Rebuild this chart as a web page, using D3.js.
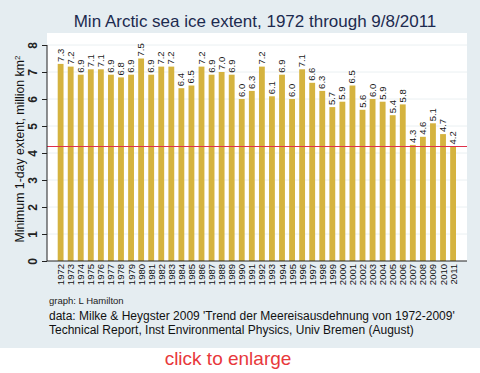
<!DOCTYPE html>
<html>
<head>
<meta charset="utf-8">
<script src="https://cdn.jsdelivr.net/npm/d3@7"></script>
<style>
  body { margin: 0; background: #fff; }
  svg { display: block; font-family: "Liberation Sans", Arial, sans-serif; }
</style>
</head>
<body>
<div id="chart"></div>
<script>
// data
const years = d3.range(1972, 2012).map(String);
const extent = [7.3, 7.2, 6.9, 7.1, 7.1, 6.9, 6.8, 6.9, 7.5, 6.9,
  7.2, 7.2, 6.4, 6.5, 7.2, 6.9, 7.0, 6.9, 6.0, 6.3,
  7.2, 6.1, 6.9, 6.0, 7.1, 6.6, 6.3, 5.7, 5.9, 6.5,
  5.6, 6.0, 5.9, 5.4, 5.8, 4.3, 4.6, 5.1, 4.7, 4.24];
const yTicks = [0, 1, 2, 3, 4, 5, 6, 7, 8];
const refLine = 4.24;

const W = 480, H = 373;
const plot = { left: 47, right: 467, top: 33, bottom: 261 };

const svg = d3.select('#chart').append('svg')
  .attr('width', W)
  .attr('height', H);

// graph background (stata style)
svg.append('rect')
  .attr('width', W)
  .attr('height', 348)
  .attr('fill', '#e5edf1');

svg.append('rect')
  .attr('x', plot.left)
  .attr('y', plot.top)
  .attr('width', plot.right - plot.left)
  .attr('height', plot.bottom - plot.top)
  .attr('fill', '#ffffff');

const x = d3.scaleBand()
  .domain(years)
  .range([57.7, 456])
  .paddingInner(0.42);

const y = d3.scaleLinear()
  .domain([0, 8])
  .range([plot.bottom, 45]);

// gridlines
svg.append('g')
  .selectAll('line')
  .data(yTicks.slice(1))
  .enter().append('line')
  .attr('x1', plot.left)
  .attr('x2', plot.right)
  .attr('y1', d => y(d))
  .attr('y2', d => y(d))
  .style('stroke', '#eaf0f2')
  .style('stroke-width', 1);

// bars
svg.append('g')
  .selectAll('rect')
  .data(extent)
  .enter().append('rect')
  .attr('x', (d, i) => x(years[i]))
  .attr('y', d => y(d))
  .attr('width', x.bandwidth())
  .attr('height', d => y(0) - y(d))
  .attr('fill', '#d5b33f');

// value labels
svg.append('g')
  .selectAll('text')
  .data(extent)
  .enter().append('text')
  .attr('transform', (d, i) => 'translate(' + (x(years[i]) + x.bandwidth() / 2 + 3) + ',' + (y(d) - 2) + ') rotate(-90)')
  .attr('font-size', 9.5)
  .attr('fill', '#1a1a1a')
  .text(d => d3.format('.1f')(d));

// reference line
svg.append('line')
  .attr('x1', plot.left)
  .attr('x2', plot.right)
  .attr('y1', y(refLine))
  .attr('y2', y(refLine))
  .style('stroke', '#e0304a')
  .style('stroke-width', 1.2);

// y axis
const yAxis = d3.axisLeft(y).tickValues(yTicks).tickSize(5).tickFormat(d3.format('d'));
const gy = svg.append('g')
  .attr('transform', 'translate(' + plot.left + ',0)')
  .call(yAxis);
gy.select('.domain').remove();
gy.append('line')
  .attr('x1', 0).attr('x2', 0)
  .attr('y1', y(8)).attr('y2', plot.bottom)
  .style('stroke', '#222');
gy.selectAll('.tick line').style('stroke', '#222');
gy.selectAll('.tick text')
  .attr('x', null).attr('dy', null)
  .attr('transform', 'translate(-10,0) rotate(-90)')
  .attr('text-anchor', 'middle')
  .attr('font-size', 12)
  .attr('font-weight', 'bold')
  .attr('fill', '#222');

// x axis
const xAxis = d3.axisBottom(x).tickSize(0).tickPadding(0);
const gx = svg.append('g')
  .attr('transform', 'translate(0,' + plot.bottom + ')')
  .call(xAxis);
gx.select('.domain').remove();
gx.append('line')
  .attr('x1', plot.left).attr('x2', plot.right)
  .style('stroke', '#222');
gx.selectAll('.tick text')
  .attr('y', null).attr('dy', null)
  .attr('transform', 'translate(3.5,3) rotate(-90)')
  .attr('text-anchor', 'end')
  .attr('font-size', 9.5)
  .attr('fill', '#111');

// axis title
svg.append('text')
  .attr('transform', 'translate(24,' + ((y(8) + plot.bottom) / 2 - 4) + ') rotate(-90)')
  .attr('text-anchor', 'middle')
  .attr('font-size', 12.3)
  .attr('fill', '#111')
  .html('Minimum 1-day extent, million km<tspan baseline-shift="super" font-size="8">2</tspan>');

// title
svg.append('text')
  .attr('x', 255)
  .attr('y', 27)
  .attr('text-anchor', 'middle')
  .attr('font-size', 17)
  .attr('fill', '#1c2a4f')
  .text('Min Arctic sea ice extent, 1972 through 9/8/2011');

// notes
svg.append('text')
  .attr('x', 49).attr('y', 304)
  .attr('font-size', 9.5)
  .attr('fill', '#222')
  .text('graph:  L Hamilton');

svg.append('text')
  .attr('x', 49).attr('y', 320)
  .attr('font-size', 12)
  .attr('fill', '#111')
  .text("data: Milke & Heygster 2009 'Trend der Meereisausdehnung von 1972-2009'");

svg.append('text')
  .attr('x', 49).attr('y', 334)
  .attr('font-size', 12)
  .attr('fill', '#111')
  .text('Technical Report, Inst Environmental Physics, Univ Bremen (August)');

svg.append('text')
  .attr('x', 228).attr('y', 365)
  .attr('text-anchor', 'middle')
  .attr('font-size', 19)
  .attr('fill', '#e8383b')
  .text('click to enlarge');
</script>
</body>
</html>
